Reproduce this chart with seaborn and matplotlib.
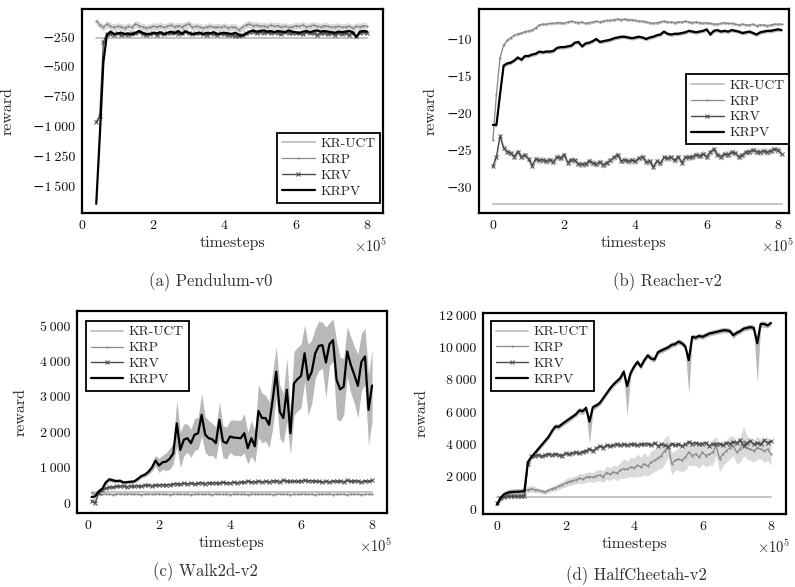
import numpy as np
import matplotlib
matplotlib.use("Agg")
import matplotlib.pyplot as plt
import seaborn as sns
from matplotlib.ticker import FuncFormatter

# evaluation points, in units of 1e5 timesteps
pend_steps = np.round(np.arange(0.4, 8.05, 0.1), 1)
reach_steps = np.round(np.arange(0.0, 8.15, 0.1), 1)
walk_steps = np.round(np.arange(0.1, 8.05, 0.1), 1)
cheetah_steps = np.round(np.arange(0.0, 8.05, 0.1), 1)

# (a) Pendulum-v0
pend_uct = -255
pend_krp = [
    -115, -150, -170, -140, -160, -170, -160, -165, -175, -160,
    -170, -140, -155, -165, -175, -170, -160, -165, -155, -170,
    -160, -150, -165, -155, -165, -150, -140, -170, -160, -165,
    -175, -165, -160, -170, -165, -170, -160, -175, -165, -170,
    -190, -170, -150, -140, -155, -150, -160, -155, -165, -150,
    -160, -155, -165, -160, -170, -165, -155, -160, -150, -165,
    -160, -150, -160, -165, -155, -160, -170, -165, -160, -170,
    -165, -160, -175, -160, -165, -155, -160,
]
pend_krv = [
    -965, -910, -290, -225, -225, -230, -220, -235, -225, -230,
    -215, -220, -205, -225, -230, -225, -215, -230, -220, -225,
    -215, -220, -210, -225, -215, -200, -220, -225, -220, -215,
    -225, -230, -220, -225, -230, -220, -225, -235, -230, -240,
    -245, -230, -215, -210, -205, -215, -210, -215, -205, -220,
    -210, -215, -225, -210, -215, -220, -215, -220, -225, -210,
    -215, -220, -230, -220, -215, -225, -220, -230, -215, -225,
    -220, -230, -215, -245, -215, -210, -215,
]
pend_krpv = [
    -1650, -1080, -460, -230, -205, -225, -220, -215, -225, -220,
    -230, -215, -200, -215, -225, -225, -215, -220, -210, -225,
    -215, -205, -220, -200, -225, -205, -215, -225, -220, -215,
    -225, -215, -220, -210, -225, -220, -215, -220, -225, -215,
    -230, -240, -225, -205, -195, -205, -200, -195, -205, -200,
    -210, -200, -205, -210, -195, -205, -210, -215, -205, -200,
    -210, -200, -195, -205, -200, -205, -210, -215, -205, -210,
    -205, -200, -210, -250, -205, -200, -205,
]

# (b) Reacher-v2
reach_uct = -32.3
reach_krp = [
    -23.6, -17.4, -12.5, -10.8, -10.2, -9.8, -9.5, -9.3, -9.2, -9.0,
    -8.9, -8.8, -8.5, -8.1, -8.0, -8.0, -7.9, -7.9, -7.8, -7.8,
    -7.9, -7.7, -7.6, -7.7, -7.8, -7.7, -7.9, -7.8, -7.7, -7.6,
    -7.7, -7.6, -7.5, -7.5, -7.4, -7.3, -7.4, -7.3, -7.4, -7.4,
    -7.5, -7.6, -7.6, -7.7, -7.8, -7.9, -7.8, -7.7, -7.6, -7.7,
    -7.7, -7.8, -7.7, -7.7, -7.6, -7.7, -7.8, -7.7, -7.8, -7.9,
    -7.8, -7.9, -8.0, -8.0, -7.9, -7.8, -7.9, -7.9, -8.0, -8.1,
    -8.0, -8.1, -8.1, -8.0, -8.2, -8.1, -8.1, -8.2, -8.1, -8.0,
    -8.0, -8.0,
]
reach_krv = [
    -27.2, -25.9, -23.1, -24.7, -25.2, -25.4, -25.9, -25.2, -25.9, -25.7,
    -26.2, -27.1, -26.2, -26.4, -26.3, -26.5, -26.3, -26.6, -25.9, -26.1,
    -25.6, -26.7, -26.3, -26.4, -26.9, -26.9, -26.9, -26.5, -26.7, -26.9,
    -26.6, -27.0, -26.7, -26.4, -26.0, -25.6, -26.5, -26.3, -26.5, -26.4,
    -26.5, -26.1, -25.9, -26.6, -26.5, -27.3, -26.5, -26.8, -26.0, -26.1,
    -26.0, -26.4, -25.9, -26.7, -26.0, -26.0, -25.9, -25.6, -25.8, -25.5,
    -25.9, -25.3, -24.9, -25.6, -25.9, -25.5, -25.6, -25.3, -25.4, -25.9,
    -25.7, -25.3, -25.2, -25.0, -25.2, -25.3, -25.1, -25.3, -25.1, -24.9,
    -25.0, -25.5,
]
reach_krpv = [
    -21.6, -21.6, -17.5, -13.6, -13.3, -13.2, -12.9, -12.5, -12.8, -12.3,
    -12.3, -12.1, -12.0, -11.7, -11.8, -11.7, -11.7, -11.6, -11.2, -11.1,
    -11.1, -11.0, -10.9, -10.5, -10.4, -11.0, -10.6, -10.5, -10.3, -10.0,
    -10.4, -10.3, -10.2, -10.1, -9.9, -9.8, -9.7, -9.7, -9.8, -9.9,
    -9.8, -9.7, -9.8, -10.0, -9.8, -9.7, -9.5, -9.4, -9.0, -9.3,
    -9.4, -9.3, -9.3, -9.2, -9.1, -8.9, -9.0, -9.1, -9.0, -8.9,
    -8.7, -9.4, -8.9, -8.8, -9.0, -8.9, -9.0, -8.8, -8.9, -9.0,
    -9.2, -9.1, -9.0, -9.2, -9.4, -9.1, -9.0, -8.9, -8.9, -8.8,
    -8.7, -8.8,
]

# (c) Walk2d-v2
walk_uct = 300
walk_krp = [
    290, 260, 250, 245, 255, 250, 240, 250, 255, 245,
    250, 255, 245, 250, 240, 250, 255, 245, 250, 255,
    245, 250, 240, 250, 255, 250, 245, 250, 240, 250,
    255, 245, 250, 250, 240, 255, 250, 245, 250, 240,
    250, 255, 245, 250, 240, 250, 255, 245, 250, 245,
    250, 240, 250, 255, 245, 250, 240, 250, 245, 250,
    255, 245, 250, 240, 250, 245, 250, 255, 240, 250,
    245, 250, 240, 250, 245, 250, 240, 245, 250, 245,
]
walk_krv = [
    60, 0, 280, 380, 420, 440, 450, 470, 470, 490,
    460, 480, 470, 490, 470, 500, 510, 490, 510, 500,
    520, 510, 520, 530, 550, 530, 560, 540, 560, 540,
    560, 570, 550, 570, 560, 570, 560, 580, 570, 560,
    590, 570, 590, 580, 620, 590, 600, 610, 600, 610,
    600, 620, 630, 600, 640, 620, 610, 620, 610, 620,
    640, 620, 630, 620, 610, 600, 610, 600, 620, 610,
    620, 600, 640, 610, 630, 620, 600, 630, 610, 640,
]
walk_krpv = [
    170, 190, 330, 400, 580, 670, 640, 620, 630, 580,
    590, 600, 610, 680, 760, 800, 880, 1000, 1200, 1060,
    1150, 1170, 1250, 1400, 2250, 1500, 1790, 1830, 1690, 1930,
    1970, 2490, 1930, 1830, 1800, 1690, 2350, 1740, 1690, 1880,
    1850, 1840, 1830, 1970, 1550, 1830, 1600, 2600, 2400, 2400,
    2210, 2910, 3710, 2580, 2400, 3200, 1970, 3380, 3500, 3590,
    4230, 3480, 3710, 4230, 4440, 4460, 3970, 4490, 4600, 3480,
    3210, 3290, 4280, 3900, 3620, 3310, 3990, 4140, 2630, 3320,
]
walk_krpv_sd = [
    40, 40, 60, 60, 60, 60, 60, 50, 50, 50,
    50, 50, 50, 60, 60, 60, 80, 100, 150, 200,
    200, 250, 300, 300, 650, 500, 450, 400, 400, 450,
    450, 600, 500, 500, 450, 450, 500, 450, 450, 450,
    500, 500, 500, 550, 450, 500, 450, 750, 700, 650,
    650, 800, 700, 750, 700, 900, 600, 900, 900, 900,
    800, 1000, 900, 700, 700, 650, 1000, 600, 600, 1100,
    900, 800, 700, 800, 800, 900, 800, 800, 1000, 1000,
]

# (d) HalfCheetah-v2
cheetah_uct = 750
cheetah_krp = [
    350, 600, 800, 900, 1000, 1050, 1050, 1100, 1150, 1200,
    1250, 1200, 1150, 1100, 1050, 1150, 1250, 1300, 1400, 1500,
    1600, 1700, 1750, 1800, 1900, 1850, 1950, 2000, 1950, 2050,
    2100, 2000, 2250, 2150, 2300, 2200, 2400, 2500, 2450, 2600,
    2550, 2700, 2600, 2800, 2650, 2900, 3000, 3150, 3300, 3600,
    3900, 2800, 3000, 3100, 3000, 3200, 3500, 3300, 3400, 3200,
    3500, 3300, 3400, 3500, 3900, 3100, 3400, 3600, 3800, 3900,
    3500, 3700, 4200, 3800, 3700, 3600, 3800, 3700, 3600, 3700,
    3400,
]
cheetah_krp_sd = [
    100, 150, 150, 150, 150, 150, 150, 150, 200, 200,
    200, 200, 150, 150, 150, 150, 150, 200, 200, 200,
    250, 250, 250, 250, 300, 300, 300, 300, 300, 350,
    350, 350, 400, 400, 400, 450, 500, 600, 500, 600,
    600, 700, 600, 700, 600, 700, 700, 700, 800, 800,
    700, 700, 600, 700, 700, 800, 800, 600, 700, 700,
    700, 700, 700, 800, 600, 800, 700, 700, 700, 600,
    700, 800, 900, 700, 700, 700, 700, 600, 700, 700,
    700,
]
cheetah_krv = [
    350, 650, 750, 780, 780, 790, 780, 790, 800, 2800,
    3250, 3300, 3350, 3250, 3350, 3400, 3350, 3400, 3350, 3300,
    3450, 3400, 3450, 3500, 3450, 3550, 3600, 3700, 3600, 3750,
    3900, 3800, 3950, 3900, 3950, 4000, 3950, 4000, 3950, 4000,
    4000, 3950, 4000, 4000, 4050, 3950, 4100, 3900, 4000, 3950,
    3850, 4050, 3950, 4000, 3900, 4000, 4150, 4050, 4100, 4000,
    4050, 4100, 3900, 4050, 4000, 4050, 3950, 4100, 4050, 4150,
    4100, 4250, 3900, 4100, 4200, 4000, 4100, 4000, 4250, 4100,
    4200,
]
cheetah_krpv = [
    270, 680, 900, 1000, 1050, 1060, 1070, 1080, 1100, 2900,
    3200, 3450, 3700, 3950, 4200, 4450, 4800, 5100, 5080, 5250,
    5400, 5550, 5700, 5850, 6100, 6050, 6250, 5400, 6300, 6400,
    6550, 6850, 7150, 7450, 7700, 7900, 8100, 8500, 7600, 8400,
    8800, 9100, 8800, 9200, 9500, 9300, 9250, 9700, 9800, 9900,
    10000, 10150, 10200, 10350, 10250, 10050, 9200, 10650, 10600, 10700,
    10650, 10750, 10850, 10900, 10950, 11000, 11050, 11050, 11000, 10750,
    10900, 11000, 11150, 11200, 11250, 11200, 10250, 11450, 11450, 11350,
    11500,
]
cheetah_krpv_lo = [
    150, 200, 200, 200, 200, 200, 200, 200, 200, 250,
    150, 150, 150, 150, 150, 150, 150, 150, 150, 150,
    150, 150, 150, 150, 200, 200, 200, 1400, 200, 150,
    150, 150, 150, 150, 150, 150, 200, 200, 1800, 200,
    150, 150, 150, 150, 150, 150, 150, 150, 150, 150,
    150, 150, 150, 150, 150, 200, 2100, 200, 150, 150,
    150, 150, 150, 150, 150, 150, 150, 150, 150, 200,
    150, 150, 150, 150, 150, 200, 2400, 200, 200, 150,
    150,
]

METHODS = ["KR-UCT", "KRP", "KRV", "KRPV"]
LINE = {
    "KR-UCT": dict(color="#c4c4c4", linewidth=1.4),
    "KRP": dict(color="#8a8a8a", linewidth=0.9, marker=".", markersize=3.2,
                markeredgewidth=0, markeredgecolor="#8a8a8a"),
    "KRV": dict(color="#4a4a4a", linewidth=1.0, marker="x", markersize=2.8,
                markeredgewidth=0.7, markeredgecolor="#4a4a4a"),
    "KRPV": dict(color="black", linewidth=1.6),
}
BAND = {"KR-UCT": "#e0e0e0", "KRP": "#dadada", "KRV": "#d0d0d0",
        "KRPV": "#b8b8b8"}


def thin_thousands(v, pos):
    return f"{v:,.0f}".replace(",", "\u2009").replace("-", "\u2212")


def draw_panel(ax, steps, curves, spreads, ylim, xlim, yticks, legend_loc,
               legend_anchor, ylabel_x, caption, caption_xy):
    for name in METHODS:
        values = np.asarray(curves[name], dtype=float)
        if values.ndim == 0:
            values = np.full(len(steps), float(values))
        spread = spreads.get(name)
        if spread is not None:
            lo, hi = spread if isinstance(spread, tuple) else (spread, spread)
            ax.fill_between(steps, values - np.asarray(lo), values + np.asarray(hi),
                            color=BAND[name], linewidth=0, zorder=1)
        sns.lineplot(x=steps, y=values, ax=ax, label=name, errorbar=None,
                     zorder=3, **LINE[name])
    ax.set_xlim(*xlim)
    ax.set_ylim(*ylim)
    ax.set_xticks([0, 2, 4, 6, 8])
    ax.set_yticks(yticks)
    ax.yaxis.set_major_formatter(FuncFormatter(thin_thousands))
    ax.tick_params(length=0, labelsize=10, pad=5, labelcolor="#111111")
    for sp in ax.spines.values():
        sp.set_visible(True)
        sp.set_color("black")
        sp.set_linewidth(1.6)
    ax.set_xlabel("timesteps", fontsize=11.5, labelpad=3)
    ax.set_ylabel("reward", fontsize=11.5)
    ax.yaxis.set_label_coords(ylabel_x, 0.5)
    ax.text(1.015, -0.165, r"$\times$10$^5$", transform=ax.transAxes,
            ha="right", va="center", fontsize=10.5)
    leg = ax.legend(loc=legend_loc, bbox_to_anchor=legend_anchor,
                    borderaxespad=0, frameon=True, fancybox=False,
                    edgecolor="black", framealpha=1, fontsize=9.8,
                    handlelength=2.4, handletextpad=0.4, labelspacing=0.25,
                    borderpad=0.35, numpoints=1)
    leg.get_frame().set_linewidth(1.3)
    fig.text(caption_xy[0], caption_xy[1], caption, ha="center", va="center",
             fontsize=12, color="#333333")


sns.set_theme(style="white")
plt.rcParams["font.family"] = ["cmr10", "DejaVu Serif", "Noto Sans CJK SC"]
plt.rcParams["mathtext.fontset"] = "cm"

fig = plt.figure(figsize=(7.95, 5.87), dpi=100)
W, H = 795, 587


def box(l, t, r, b):
    return fig.add_axes([l / W, 1 - b / H, (r - l) / W, (b - t) / H])


ax_a = box(82, 9, 383, 213)
ax_b = box(479, 9, 789, 213)
ax_c = box(77, 311, 387, 513)
ax_d = box(483, 313, 786, 514)

draw_panel(ax_a, pend_steps,
           {"KR-UCT": pend_uct, "KRP": pend_krp, "KRV": pend_krv, "KRPV": pend_krpv},
           {"KRP": 30, "KRV": 15, "KRPV": 15},
           ylim=(-1727, -15), xlim=(0, 8.45),
           yticks=[-1500, -1250, -1000, -750, -500, -250],
           legend_loc="lower right", legend_anchor=(0.99, 0.05),
           ylabel_x=-0.225, caption="(a) Pendulum-v0",
           caption_xy=(211 / W, 1 - 282 / H))

draw_panel(ax_b, reach_steps,
           {"KR-UCT": reach_uct, "KRP": reach_krp, "KRV": reach_krv, "KRPV": reach_krpv},
           {"KRP": 0.2, "KRV": 0.45, "KRPV": 0.25},
           ylim=(-33.5, -5.95), xlim=(-0.39, 8.31),
           yticks=[-30, -25, -20, -15, -10],
           legend_loc="upper right", legend_anchor=(1.0, 0.68),
           ylabel_x=-0.135, caption="(b) Reacher-v2",
           caption_xy=(667 / W, 1 - 282 / H))

draw_panel(ax_c, walk_steps,
           {"KR-UCT": walk_uct, "KRP": walk_krp, "KRV": walk_krv, "KRPV": walk_krpv},
           {"KRP": 20, "KRV": 30, "KRPV": np.asarray(walk_krpv_sd)},
           ylim=(-282, 5424), xlim=(-0.31, 8.42),
           yticks=[0, 1000, 2000, 3000, 4000, 5000],
           legend_loc="upper left", legend_anchor=(0.029, 0.95),
           ylabel_x=-0.158, caption="(c) Walk2d-v2",
           caption_xy=(205 / W, 1 - 572 / H))

draw_panel(ax_d, cheetah_steps,
           {"KR-UCT": cheetah_uct, "KRP": cheetah_krp, "KRV": cheetah_krv,
            "KRPV": cheetah_krpv},
           {"KRP": np.asarray(cheetah_krp_sd), "KRV": 120,
            "KRPV": (np.asarray(cheetah_krpv_lo), 180)},
           ylim=(-310, 12124), xlim=(-0.41, 8.44),
           yticks=[0, 2000, 4000, 6000, 8000, 10000, 12000],
           legend_loc="upper left", legend_anchor=(0.026, 0.96),
           ylabel_x=-0.18, caption="(d) HalfCheetah-v2",
           caption_xy=(636 / W, 1 - 576 / H))

fig.savefig("out.png", dpi=100, facecolor="white")
